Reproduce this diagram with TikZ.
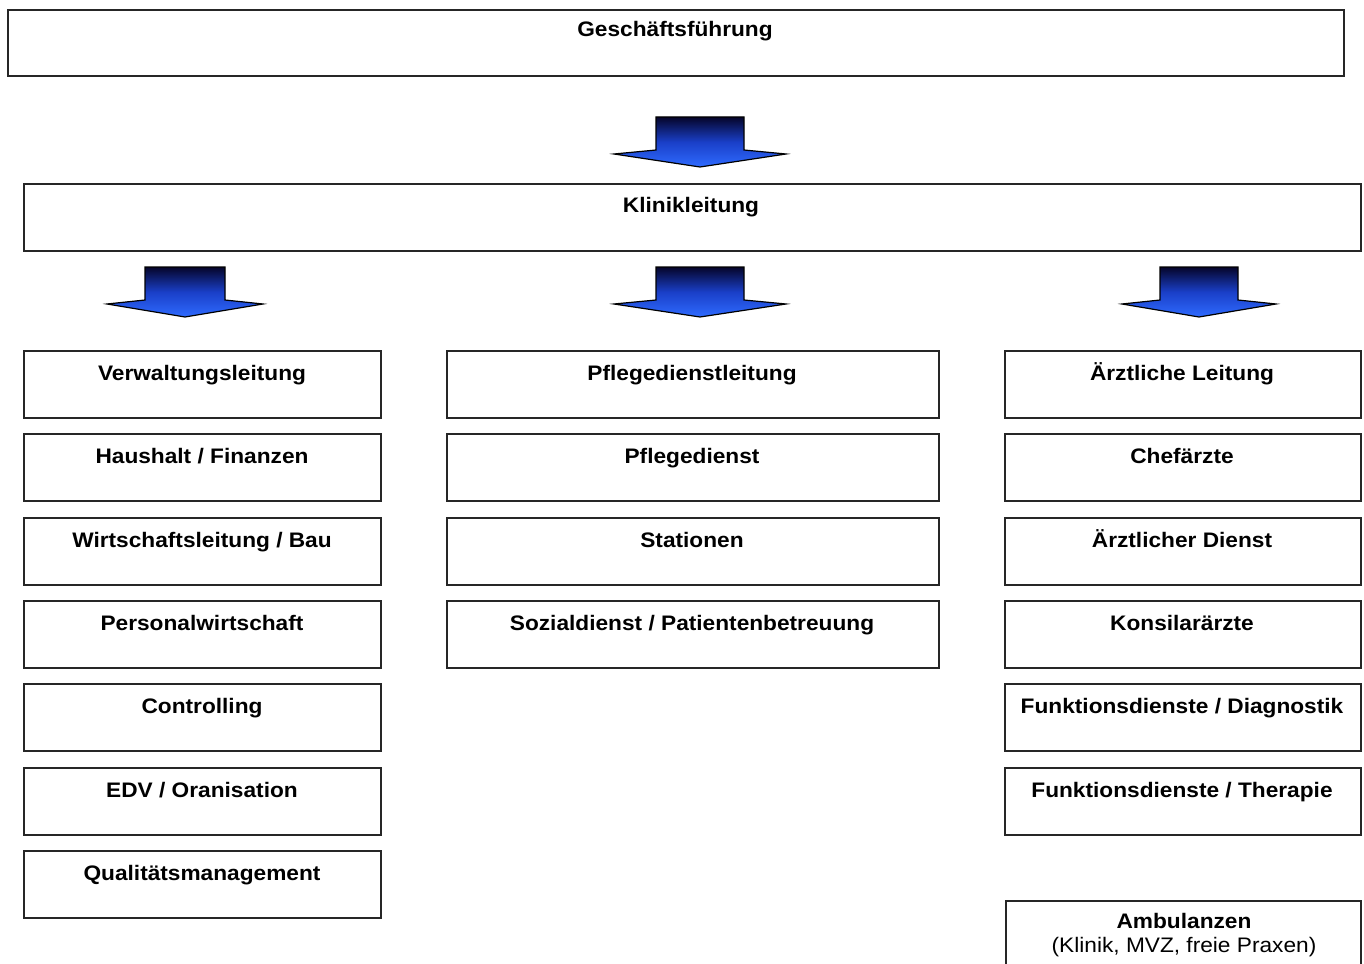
\documentclass[tikz,border=0pt]{standalone}
\usepackage{fontspec}
\setmainfont{Liberation Sans}
\newfontfamily\stretchsans[FakeStretch=1.08]{Liberation Sans}
\definecolor{arrtop}{HTML}{05052A}
\definecolor{arrmid}{HTML}{1A3FC8}
\definecolor{arrbot}{HTML}{2F6BFF}
\tikzset{
  box/.style={draw=black!85, line width=2.2pt, anchor=north west, inner sep=0pt},
  btext/.style={anchor=base, font=\stretchsans\fontsize{21}{25}\selectfont\bfseries, inner sep=0pt},
  rtext/.style={anchor=base, font=\stretchsans\fontsize{21}{25}\selectfont, inner sep=0pt},
  blockarr/.style={draw=black, line width=1.2pt, line join=miter, top color=arrtop, bottom color=arrbot, middle color=arrmid}
}
\newcommand{\blockarrow}[4]{% cx, top, halfshaft, halfwing
  \shadedraw[blockarr]
    ({#1-#3},{#2}) -- ({#1+#3},{#2}) -- ({#1+#3},{#2+33}) -- ({#1+#4},{#2+37})
    -- ({#1},{#2+50}) -- ({#1-#4},{#2+37}) -- ({#1-#3},{#2+33}) -- cycle;}
\begin{document}
\begin{tikzpicture}[x=1pt,y=-1pt]
\useasboundingbox[fill=white] (0,0) rectangle (1364,963);
% top boxes
\node[box, minimum width=1336pt, minimum height=66pt] (gf) at (7,9) {};
\node[btext] (gft) at (675,37) {Geschäftsführung};
\node[box, minimum width=1337pt, minimum height=67pt] (kl) at (23,183) {};
\node[btext] (klt) at (691,212) {Klinikleitung};
% arrows
\blockarrow{700}{117}{44}{86}
\blockarrow{185}{267}{40}{78}
\blockarrow{700}{267}{44}{86}
\blockarrow{1199}{267}{39}{77}
% left column
\foreach \i/\y/\t in {1/350/{Verwaltungsleitung}, 2/433/{Haushalt / Finanzen}, 3/517/{Wirtschaftsleitung / Bau}, 4/600/{Personalwirtschaft}, 5/683/{Controlling}, 6/767/{EDV / Oranisation}, 7/850/{Qualitätsmanagement}}{
  \node[box, minimum width=357pt, minimum height=67pt] (l\i) at (23,\y) {};
  \node[btext] (l\i t) at (202,\y+30) {\t};
}
% middle column
\foreach \i/\y/\t in {1/350/{Pflegedienstleitung}, 2/433/{Pflegedienst}, 3/517/{Stationen}, 4/600/{Sozialdienst / Patientenbetreuung}}{
  \node[box, minimum width=492pt, minimum height=67pt] (m\i) at (446,\y) {};
  \node[btext] (m\i t) at (692,\y+30) {\t};
}
% right column
\foreach \i/\y/\t in {1/350/{Ärztliche Leitung}, 2/433/{Chefärzte}, 3/517/{Ärztlicher Dienst}, 4/600/{Konsilarärzte}, 5/683/{Funktionsdienste / Diagnostik}, 6/767/{Funktionsdienste / Therapie}}{
  \node[box, minimum width=356pt, minimum height=67pt] (r\i) at (1004,\y) {};
  \node[btext] (r\i t) at (1182,\y+30) {\t};
}
\node[box, minimum width=355pt, minimum height=80pt] (amb) at (1005,900) {};
\node[btext] (ambt) at (1184,928) {Ambulanzen};
\node[rtext] (ambs) at (1184,952) {(Klinik, MVZ, freie Praxen)};
\end{tikzpicture}
\end{document}
